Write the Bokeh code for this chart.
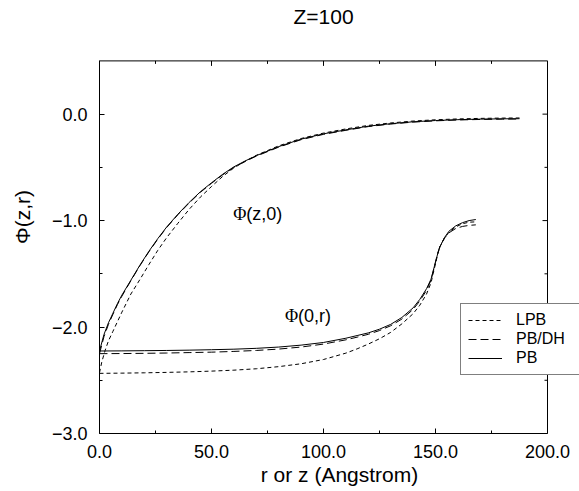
import math
from bokeh.plotting import figure
from bokeh.models import (Range1d, FixedTicker, LinearAxis, Legend, LegendItem,
                          Label, CustomJSTickFormatter)
from bokeh.embed import file_html
from bokeh.resources import INLINE

FONT = "Liberation Sans"

# ---------------- data ----------------
title_text = "Z=100"
x_label = "r or z (Angstrom)"
y_label = "Φ(z,r)"
x_ticks = [0, 50, 100, 150, 200]
x_minor = [25, 75, 125, 175]
y_ticks = [-3, -2, -1, 0]
y_minor = [-2.5, -1.5, -0.5]
series_names = ["LPB", "PB/DH", "PB"]

# Phi(z,0) curves
z_pb = [0, 2, 4, 6, 8, 10, 14, 18, 22, 26, 30, 35, 40, 45, 50, 55, 60, 65, 70,
        80, 90, 100, 110, 120, 130, 140, 150, 160, 170, 180, 187.5]
phi_z_pb = [-2.225, -2.07, -1.96, -1.87, -1.78, -1.70, -1.56, -1.42, -1.29, -1.17,
            -1.06, -0.94, -0.83, -0.73, -0.645, -0.565, -0.495, -0.44, -0.39,
            -0.305, -0.235, -0.185, -0.148, -0.113, -0.09, -0.072, -0.06, -0.052,
            -0.047, -0.044, -0.043]
phi_z_dh = [-2.25, -2.09, -1.975, -1.88, -1.79, -1.71, -1.565, -1.425, -1.295, -1.175,
            -1.065, -0.945, -0.835, -0.735, -0.65, -0.57, -0.5, -0.445, -0.395,
            -0.31, -0.24, -0.19, -0.152, -0.117, -0.093, -0.075, -0.063, -0.055,
            -0.05, -0.047, -0.046]
z_lpb = [0, 1, 2.5, 4, 6, 8, 10, 14, 18, 22, 26, 30, 35, 40, 45, 50, 55, 60, 65, 70,
         80, 90, 100, 110, 120, 130, 140, 150, 160, 170, 180, 187.5]
phi_z_lpb = [-2.43, -2.33, -2.22, -2.13, -2.04, -1.95, -1.86, -1.69, -1.555, -1.415,
             -1.28, -1.16, -1.025, -0.895, -0.78, -0.68, -0.585, -0.505, -0.443, -0.387,
             -0.298, -0.229, -0.178, -0.139, -0.106, -0.083, -0.065, -0.053, -0.045,
             -0.04, -0.037, -0.036]

# Phi(0,r) curves
r_vals = [0, 10, 20, 30, 40, 50, 60, 70, 80, 90, 100, 110, 115, 120, 125, 130, 135,
          140, 143, 146, 148, 149, 150, 151, 152, 154, 156, 159, 162, 165, 168]
phi_r_pb = [-2.225, -2.224, -2.222, -2.22, -2.217, -2.213, -2.208, -2.20, -2.188,
            -2.17, -2.145, -2.105, -2.08, -2.055, -2.02, -1.975, -1.91, -1.82, -1.74,
            -1.64, -1.55, -1.47, -1.39, -1.31, -1.245, -1.16, -1.10, -1.05, -1.02,
            -1.0, -0.99]
phi_r_dh = [-2.25, -2.249, -2.247, -2.244, -2.24, -2.236, -2.229, -2.22, -2.207,
            -2.188, -2.16, -2.12, -2.095, -2.068, -2.033, -1.988, -1.925, -1.835,
            -1.755, -1.655, -1.56, -1.475, -1.39, -1.305, -1.24, -1.165, -1.115,
            -1.075, -1.055, -1.045, -1.04]
phi_r_lpb = [-2.435, -2.433, -2.43, -2.426, -2.421, -2.414, -2.405, -2.392, -2.372,
             -2.345, -2.305, -2.245, -2.205, -2.16, -2.11, -2.05, -1.97, -1.875,
             -1.795, -1.69, -1.585, -1.495, -1.405, -1.315, -1.245, -1.165, -1.11,
             -1.06, -1.03, -1.015, -1.012]

# annotation anchors (data units)
ann_z = (59.7, -0.934, "(z,0)")
ann_r = (82.8, -1.90, "(0,r)")

# ---------------- figure ----------------
X_MIN, X_MAX = 0, 200
Y_MIN, Y_MAX = -3, 0.5
W, H = 579, 491
LEFT, BOTTOM = 99, 58
BOX_W, BOX_H = 448, 372.6          # size of the axis box in px
px_x = BOX_W / (X_MAX - X_MIN)
px_y = BOX_H / (Y_MAX - Y_MIN)
# the drawing frame is larger than the axis box so that the legend can overhang
# the box on the right and the title can sit above it
x_view_end = X_MIN + (W - LEFT) / px_x
y_view_end = Y_MIN + (H - BOTTOM) / px_y

p = figure(width=W, height=H, output_backend="svg", toolbar_location=None,
           x_range=Range1d(X_MIN, x_view_end), y_range=Range1d(Y_MIN, y_view_end),
           min_border_left=LEFT, min_border_right=0, min_border_top=0,
           min_border_bottom=BOTTOM, x_axis_type=None, y_axis_type=None)
p.outline_line_color = None
p.background_fill_color = "white"
p.border_fill_color = "white"

fmt = CustomJSTickFormatter(
    code="return (tick < 0 ? '\u2212' : '') + Math.abs(tick).toFixed(1);")


def make_axis(ticks, minor, bounds):
    ax = LinearAxis(ticker=FixedTicker(ticks=ticks, minor_ticks=minor), formatter=fmt,
                    bounds=bounds)
    ax.major_tick_in = 5
    ax.major_tick_out = 0
    ax.minor_tick_in = 3
    ax.minor_tick_out = 0
    ax.axis_line_color = "black"
    ax.major_tick_line_color = "black"
    ax.minor_tick_line_color = "black"
    ax.major_label_text_font = FONT
    ax.major_label_text_font_size = "18px"
    ax.major_label_text_color = "black"
    ax.axis_label_text_font = FONT
    ax.axis_label_text_font_size = "21px"
    ax.axis_label_text_font_style = "normal"
    ax.axis_label_text_color = "black"
    return ax


xb = make_axis(x_ticks, x_minor, (X_MIN, X_MAX))
xb.axis_label = x_label
xb.major_label_standoff = 11
xb.axis_label_standoff = 2
p.add_layout(xb, "below")

yl = make_axis(y_ticks, y_minor, (Y_MIN, Y_MAX))
yl.axis_label = y_label
yl.major_label_standoff = 12
yl.axis_label_standoff = 15
p.add_layout(yl, "left")

# top and right edges of the axis box, with inward ticks
p.segment(x0=[X_MIN, X_MAX], y0=[Y_MAX, Y_MIN], x1=[X_MAX, X_MAX], y1=[Y_MAX, Y_MAX],
          line_color="black", line_width=1)
p.ray(x=[X_MAX] * len(y_ticks), y=y_ticks, length=5, length_units="screen",
      angle=math.pi, line_color="black", line_width=1)
p.ray(x=[X_MAX] * len(y_minor), y=y_minor, length=3, length_units="screen",
      angle=math.pi, line_color="black", line_width=1)
p.ray(x=x_ticks, y=[Y_MAX] * len(x_ticks), length=5, length_units="screen",
      angle=-math.pi / 2, line_color="black", line_width=1)
p.ray(x=x_minor, y=[Y_MAX] * len(x_minor), length=3, length_units="screen",
      angle=-math.pi / 2, line_color="black", line_width=1)

dashes = {"LPB": "4 3", "PB/DH": "8 4", "PB": "solid"}
curves = {
    "LPB": [(z_lpb, phi_z_lpb), (r_vals, phi_r_lpb)],
    "PB/DH": [(z_pb, phi_z_dh), (r_vals, phi_r_dh)],
    "PB": [(z_pb, phi_z_pb), (r_vals, phi_r_pb)],
}
items = []
for name in series_names:
    rends = []
    for xs, ys in curves[name]:
        rends.append(p.line(xs, ys, line_color="black", line_width=1,
                            line_dash=dashes[name]))
    items.append(LegendItem(label=name, renderers=[rends[0]]))

legend = Legend(items=items, location=(361, 58), padding=7, spacing=1,
                glyph_width=34, glyph_height=18, label_height=18, label_width=56,
                label_standoff=14, margin=0, border_line_color="black",
                border_line_width=1, background_fill_color="white",
                background_fill_alpha=1, label_text_font=FONT,
                label_text_font_size="16px", label_text_color="black")
p.add_layout(legend, "center")

for (ax_, ay_, txt) in (ann_z, ann_r):
    p.add_layout(Label(x=ax_, y=ay_, text="Φ", text_font="Liberation Serif",
                       text_font_size="18px", text_baseline="middle",
                       text_color="black"))
    p.add_layout(Label(x=ax_, y=ay_, x_offset=13, text=txt, text_font=FONT,
                       text_font_size="18px", text_baseline="middle",
                       text_color="black"))

# title, 44 px above the axis box
p.add_layout(Label(x=(X_MIN + X_MAX) / 2, y=Y_MAX, y_offset=44, text=title_text,
                   text_font=FONT, text_font_size="21px", text_align="center",
                   text_baseline="middle", text_color="black"))

open("out.html", "w").write(file_html(p, INLINE))
